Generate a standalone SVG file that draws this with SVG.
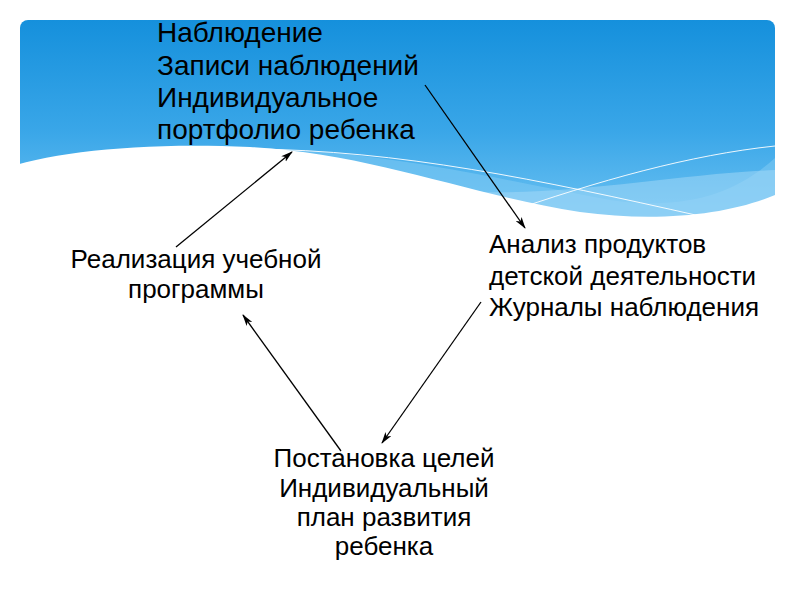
<svg xmlns="http://www.w3.org/2000/svg" width="794" height="596" viewBox="0 0 794 596">
<defs>
<linearGradient id="sky" x1="0" y1="20" x2="0" y2="220" gradientUnits="userSpaceOnUse">
<stop offset="0" stop-color="#1590dc"/>
<stop offset="0.55" stop-color="#39a6e8"/>
<stop offset="1" stop-color="#6cc2f2"/>
</linearGradient>
<clipPath id="hdr"><rect x="20" y="20" width="755" height="215" rx="8"/></clipPath>
<marker id="ah" viewBox="0 0 12 8" refX="11" refY="4" markerWidth="12" markerHeight="8" markerUnits="userSpaceOnUse" orient="auto">
<path d="M0,0.5 L12,4 L0,7.5 L3,4 Z" fill="#000"/>
</marker>
<style>
.t{font-family:"Liberation Sans",Arial,sans-serif;font-size:26px;fill:#000}
.big{font-size:28px}
.c{text-anchor:middle}
.ln{stroke:#000;stroke-width:1.3;fill:none;marker-end:url(#ah)}
.wl{stroke:#fff;stroke-width:1;fill:none;opacity:0.9}
</style>
</defs>
<rect width="794" height="596" fill="#fff"/>
<g id="background">
<g clip-path="url(#hdr)">
<rect x="20" y="20" width="755" height="215" fill="url(#sky)"/>
<path d="M230,148 C380,148 500,180 610,200 C690,212 740,190 775,158 L775,250 L230,250 Z" fill="#7cc8f3" opacity="0.6"/>
<path d="M430,190 C560,200 660,175 775,170 L775,250 L430,250 Z" fill="#a6daf7" opacity="0.5"/>
</g>
<path d="M0,170 C50,152 140,142 250,147 C370,153 470,195 580,212 C660,223 730,214 775,195 L800,195 L800,260 L0,260 Z" fill="#fff"/>
<g clip-path="url(#hdr)">
<path class="wl" d="M250,149 C400,150 540,180 700,216"/>
<path class="wl" d="M500,215 C600,180 690,155 775,146"/>
</g>
</g>
<g id="connectors">
<line class="ln" x1="176" y1="247" x2="292" y2="152"/>
<line class="ln" x1="425" y1="85" x2="525" y2="228"/>
<line class="ln" x1="481" y1="302" x2="382" y2="443"/>
<line class="ln" x1="341" y1="451" x2="243" y2="315"/>
</g>
<g id="node-top">
<text class="t big" x="157" y="42">Наблюдение</text>
<text class="t big" x="157" y="74.5">Записи наблюдений</text>
<text class="t big" x="157" y="107">Индивидуальное</text>
<text class="t big" x="157" y="139">портфолио ребенка</text>
</g>
<g id="node-right">
<text class="t" x="489" y="253">Анализ продуктов</text>
<text class="t" x="489" y="284.5">детской деятельности</text>
<text class="t" x="489" y="316">Журналы наблюдения</text>
</g>
<g id="node-bottom">
<text class="t c" x="384" y="467">Постановка целей</text>
<text class="t c" x="384" y="497">Индивидуальный</text>
<text class="t c" x="384" y="526">план развития</text>
<text class="t c" x="384" y="555">ребенка</text>
</g>
<g id="node-left">
<text class="t c" x="196" y="268">Реализация учебной</text>
<text class="t c" x="196" y="298">программы</text>
</g>
</svg>
